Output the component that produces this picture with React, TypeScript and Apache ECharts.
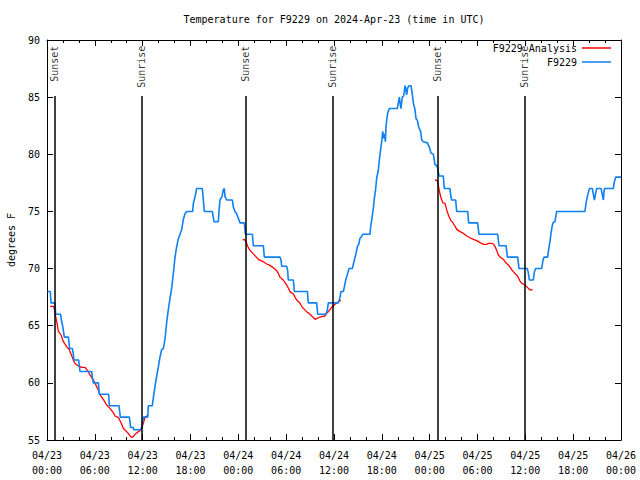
import React, { useEffect, useRef } from "react";
import * as echarts from "echarts";

// hours since 2024-04-23 00:00 UTC, temperature in degrees F
const stationF9229: [number, number][] = [
  [0.05, 68.0], [0.42, 68.0], [0.46, 67.5], [0.5, 67.0], [1.0, 67.0], [1.09, 66.0], [1.71, 66.0],
  [1.8, 65.5], [1.96, 65.0], [2.05, 64.6], [2.17, 64.0], [2.68, 64.0], [2.76, 63.5], [2.84, 63.0],
  [3.18, 63.0], [3.26, 62.7], [3.39, 62.0], [3.97, 62.0], [4.14, 61.0], [5.6, 61.0], [5.69, 60.5],
  [5.81, 60.0], [6.44, 60.0], [6.56, 59.0], [7.73, 59.0], [7.82, 58.0], [9.03, 58.0], [9.2, 57.0],
  [10.33, 57.0], [10.49, 56.1], [10.83, 56.1], [10.88, 55.9], [11.75, 55.9], [11.85, 56.1],
  [11.95, 56.5], [12.1, 57.0], [12.63, 57.0], [12.71, 58.0], [13.21, 58.0], [13.34, 58.7],
  [13.55, 59.7], [13.76, 60.6], [13.97, 61.4], [14.18, 62.3], [14.38, 62.9], [14.59, 63.0],
  [14.8, 63.8], [15.01, 65.3], [15.22, 66.4], [15.43, 67.4], [15.64, 68.3], [15.85, 69.6],
  [16.06, 71.0], [16.26, 71.9], [16.47, 72.6], [16.68, 73.0], [16.89, 73.4], [17.1, 74.3],
  [17.31, 74.8], [17.52, 75.0], [18.27, 75.0], [18.36, 75.7], [18.57, 76.3], [18.77, 77.0],
  [19.49, 77.0], [19.61, 76.0], [19.74, 75.0], [20.74, 75.0], [20.95, 74.1], [21.49, 74.1],
  [21.58, 75.1], [21.7, 76.0], [21.95, 76.3], [22.12, 76.9], [22.24, 77.0], [22.33, 76.3],
  [22.54, 76.0], [23.25, 76.0], [23.37, 75.4], [23.58, 75.0], [23.79, 74.8], [24.0, 74.4],
  [24.21, 74.0], [24.75, 74.0], [24.88, 73.0], [25.76, 73.0], [25.88, 72.0], [27.14, 72.0],
  [27.26, 71.0], [29.23, 71.0], [29.35, 70.75], [29.44, 70.2], [30.06, 70.2], [30.19, 69.8],
  [30.27, 69.0], [30.9, 69.0], [31.03, 68.0], [32.66, 68.0], [32.78, 67.0], [33.83, 67.0],
  [33.96, 66.0], [35.0, 66.0], [35.17, 66.4], [35.29, 67.0], [36.55, 67.0], [36.76, 67.5],
  [36.88, 68.0], [37.18, 68.0], [37.3, 68.4], [37.47, 69.0], [37.72, 69.6], [37.89, 70.0],
  [38.3, 70.0], [38.55, 70.75], [38.72, 71.2], [38.97, 72.0], [39.1, 72.1], [39.26, 72.65],
  [39.45, 72.8], [39.6, 73.0], [40.52, 73.0], [40.6, 73.7], [40.73, 74.25], [40.94, 75.3],
  [41.06, 76.15], [41.23, 77.0], [41.35, 77.9], [41.56, 78.6], [41.69, 79.5], [41.86, 80.5],
  [41.98, 81.1], [42.11, 82.0], [42.23, 81.4], [42.33, 81.8], [42.44, 81.1], [42.52, 82.4],
  [42.61, 83.0], [42.73, 83.6], [42.94, 84.0], [43.94, 84.0], [44.07, 84.5], [44.2, 85.0],
  [44.28, 84.5], [44.4, 84.0], [44.57, 85.0], [44.74, 85.1], [44.91, 86.0], [45.03, 85.6],
  [45.11, 85.2], [45.24, 85.8], [45.41, 86.0], [45.66, 86.0], [45.83, 85.2], [45.95, 84.5],
  [46.16, 83.9], [46.29, 83.1], [46.45, 83.0], [46.66, 82.3], [46.87, 82.0], [47.0, 81.25],
  [47.21, 81.1], [47.71, 81.0], [47.92, 80.7], [48.05, 80.4], [48.17, 80.1], [48.46, 80.0],
  [48.67, 79.1], [48.88, 79.0], [49.0, 78.8], [49.17, 78.1], [49.71, 78.1], [49.84, 77.0],
  [50.55, 77.0], [50.65, 76.3], [50.76, 76.0], [51.26, 76.0], [51.39, 75.0], [52.77, 75.0],
  [52.89, 74.0], [54.02, 74.0], [54.19, 73.0], [56.53, 73.0], [56.7, 72.0], [57.58, 72.0],
  [57.75, 71.0], [59.04, 71.0], [59.21, 70.0], [60.26, 70.0], [60.38, 69.6], [60.51, 69.0],
  [61.01, 69.0], [61.13, 69.7], [61.3, 70.0], [62.05, 70.0], [62.2, 70.7], [62.34, 71.0],
  [62.8, 71.0], [62.97, 71.9], [63.1, 72.4], [63.22, 73.1], [63.39, 73.8], [63.51, 74.05],
  [63.72, 74.1], [63.93, 75.0], [67.48, 75.0], [67.61, 75.7], [67.78, 76.3], [68.03, 77.0],
  [68.41, 77.0], [68.53, 76.5], [68.66, 76.0], [68.8, 76.5], [68.95, 77.0], [69.5, 77.0],
  [69.65, 76.5], [69.79, 76.0], [69.91, 77.0], [71.04, 77.0], [71.17, 77.6], [71.34, 78.0],
  [72.0, 78.0],
];

const analysisNight1: [number, number][] = [
  [0.4, 66.7], [0.79, 66.7], [0.92, 66.5], [1.0, 66.1], [1.13, 65.65], [1.3, 65.06], [1.42, 64.5],
  [1.76, 64.2], [2.05, 63.6], [2.47, 63.17], [2.8, 62.9], [2.97, 62.6], [3.18, 62.23], [3.3, 62.0],
  [3.51, 61.7], [3.93, 61.48], [4.35, 61.36], [4.77, 61.36], [4.97, 61.18], [5.18, 60.98],
  [5.39, 60.69], [5.6, 60.48], [5.81, 60.25], [6.02, 59.96], [6.23, 59.67], [6.44, 59.38],
  [6.65, 58.94], [7.07, 58.56], [7.48, 58.06], [7.9, 57.77], [8.32, 57.39], [8.53, 57.1],
  [8.95, 56.98], [9.16, 56.69], [9.36, 56.4], [9.57, 56.02], [9.78, 55.88], [10.2, 55.58],
  [10.41, 55.35], [10.62, 55.23], [10.83, 55.29], [11.04, 55.5], [11.45, 55.73], [11.66, 55.82],
  [11.87, 56.02], [12.08, 56.46], [12.29, 56.98], [12.71, 57.19],
];
const analysisNight2: [number, number][] = [
  [24.54, 72.5], [24.75, 72.55], [24.96, 72.35], [25.17, 71.95], [25.38, 71.68], [25.59, 71.5],
  [25.8, 71.33], [26.0, 71.2], [26.51, 70.81], [26.8, 70.7], [27.14, 70.6], [27.56, 70.4],
  [27.9, 70.3], [28.18, 70.17], [28.5, 70.0], [28.81, 69.82], [29.0, 69.6], [29.23, 69.23],
  [29.45, 69.1], [29.64, 69.0], [30.06, 68.56], [30.27, 68.3], [30.48, 67.98], [30.9, 67.78],
  [31.1, 67.5], [31.32, 67.25], [31.74, 66.96], [31.95, 66.7], [32.15, 66.52], [32.57, 66.23],
  [33.0, 66.0], [33.2, 65.85], [33.62, 65.56], [34.04, 65.7], [34.46, 65.79], [34.87, 65.85],
  [35.08, 66.1], [35.29, 66.23], [35.71, 66.61], [36.13, 66.87], [36.55, 67.1], [36.88, 67.25],
];
const analysisNight3: [number, number][] = [
  [48.67, 77.75], [48.96, 77.7], [49.08, 77.31], [49.2, 76.85], [49.38, 76.29], [49.63, 75.77],
  [49.93, 75.7], [50.13, 75.13], [50.4, 74.6], [50.68, 74.16], [50.85, 74.1], [51.0, 73.9],
  [51.2, 73.7], [51.39, 73.43], [51.81, 73.23], [52.2, 73.1], [52.65, 72.85], [53.05, 72.7],
  [53.48, 72.56], [53.9, 72.45], [54.32, 72.27], [54.74, 72.12], [55.15, 72.12], [55.36, 72.21],
  [55.78, 72.21], [56.0, 72.15], [56.2, 71.92], [56.4, 71.6], [56.62, 71.19], [56.85, 70.99],
  [57.24, 70.81], [57.45, 70.6], [57.66, 70.45], [57.87, 70.31], [58.1, 70.1], [58.3, 69.88],
  [58.5, 69.73], [58.7, 69.55], [58.91, 69.44], [59.1, 69.24], [59.3, 68.95], [59.54, 68.71],
  [59.75, 68.65], [59.96, 68.56], [60.2, 68.4], [60.4, 68.25], [60.59, 68.13], [60.92, 68.13],
];

const eventHours = [0.92, 11.87, 24.96, 35.79, 48.96, 59.88];
const eventLabels = ["Sunset", "Sunrise", "Sunset", "Sunrise", "Sunset", "Sunrise"];
const eventLineTop = 85.1;
const eventLabelTop = 89.5;

const xTickLabels = [
  "04/23\n00:00", "04/23\n06:00", "04/23\n12:00", "04/23\n18:00",
  "04/24\n00:00", "04/24\n06:00", "04/24\n12:00", "04/24\n18:00",
  "04/25\n00:00", "04/25\n06:00", "04/25\n12:00", "04/25\n18:00",
  "04/26\n00:00",
];

const FONT = '"DejaVu Sans Mono", "Liberation Mono", monospace';
const BLUE = "#0f80f2";
const RED = "#ff0000";

export default function App() {
  const ref = useRef<HTMLDivElement>(null);
  useEffect(() => {
    if (!ref.current) return;
    const chart = echarts.init(ref.current, null, { renderer: "svg" });
    const analysisData: any[] = [
      ...analysisNight1,
      [12.9, "-"],
      ...analysisNight2,
      [37.0, "-"],
      ...analysisNight3,
    ];
    const tickStyle = { color: "#000", width: 1 };
    const baseX = {
      type: "value",
      min: 0,
      max: 72,
      interval: 6,
      axisLine: { show: true, onZero: false, lineStyle: tickStyle },
      axisTick: { show: true, inside: true, length: 6, lineStyle: tickStyle },
      minorTick: { show: true, splitNumber: 3, length: 3, lineStyle: tickStyle },
      splitLine: { show: false },
    };
    const baseY = {
      type: "value",
      min: 55,
      max: 90,
      interval: 5,
      axisLine: { show: true, onZero: false, lineStyle: tickStyle },
      axisTick: { show: true, inside: true, length: 6, lineStyle: tickStyle },
      splitLine: { show: false },
    };
    const legendBase = {
      orient: "vertical",
      align: "right",
      right: 29,
      icon: "rect",
      itemWidth: 29,
      itemHeight: 1.5,
      padding: 0,
      selectedMode: false,
      textStyle: { fontFamily: FONT, fontSize: 10, color: "#000" },
    };
    chart.setOption({
      animation: false,
      backgroundColor: "#fff",
      grid: {
        left: 47,
        right: 19,
        top: 40,
        bottom: 40,
        containLabel: false,
        outerBoundsMode: "none",
      },
      graphic: [
        {
          type: "text",
          x: 334,
          y: 19,
          style: {
            text: "Temperature for F9229 on 2024-Apr-23 (time in UTC)",
            fontFamily: FONT,
            fontSize: 10,
            fill: "#000",
            align: "center",
            verticalAlign: "middle",
          },
        },
      ],
      legend: [
        { ...legendBase, top: 43, data: ["F9229 Analysis"] },
        { ...legendBase, top: 57, data: ["F9229"] },
      ],
      xAxis: [
        {
          ...baseX,
          position: "bottom",
          axisLabel: {
            formatter: (v: number) => xTickLabels[Math.round(v / 6)] ?? "",
            fontFamily: FONT,
            fontSize: 10,
            color: "#000",
            lineHeight: 15,
            margin: 8,
          },
        },
        { ...baseX, position: "top", axisLabel: { show: false } },
      ],
      yAxis: [
        {
          ...baseY,
          position: "left",
          name: "degrees F",
          nameLocation: "middle",
          nameRotate: 90,
          nameGap: 31,
          nameTextStyle: { fontFamily: FONT, fontSize: 10, color: "#000" },
          axisLabel: { fontFamily: FONT, fontSize: 10, color: "#000", margin: 7 },
        },
        { ...baseY, position: "right", axisLabel: { show: false } },
      ],
      series: [
        {
          name: "F9229 Analysis",
          type: "line",
          data: analysisData,
          symbol: "none",
          showSymbol: false,
          connectNulls: false,
          lineStyle: { color: RED, width: 1.3 },
          itemStyle: { color: RED },
          z: 3,
        },
        {
          name: "F9229",
          type: "line",
          data: stationF9229,
          symbol: "none",
          showSymbol: false,
          lineStyle: { color: BLUE, width: 1.6 },
          itemStyle: { color: BLUE },
          z: 4,
        },
        {
          name: "events",
          type: "scatter",
          silent: true,
          symbolSize: 1,
          itemStyle: { color: "rgba(0,0,0,0)" },
          data: eventHours.map((h, i) => ({ value: [h, eventLabelTop], name: eventLabels[i] })),
          label: {
            show: true,
            formatter: "{b}",
            rotate: 90,
            position: "inside",
            align: "right",
            verticalAlign: "middle",
            fontFamily: FONT,
            fontSize: 10,
            color: "#000",
          },
          markLine: {
            silent: true,
            symbol: "none",
            label: { show: false },
            lineStyle: { color: "#000", width: 1.5, type: "solid" },
            data: eventHours.map((h) => [{ coord: [h, 55] }, { coord: [h, eventLineTop] }]),
          },
          z: 5,
        },
      ],
    });
    return () => chart.dispose();
  }, []);
  return (
    <div
      ref={ref}
      style={{ position: "fixed", left: 0, top: 0, width: 640, height: 480, background: "#fff" }}
    />
  );
}
